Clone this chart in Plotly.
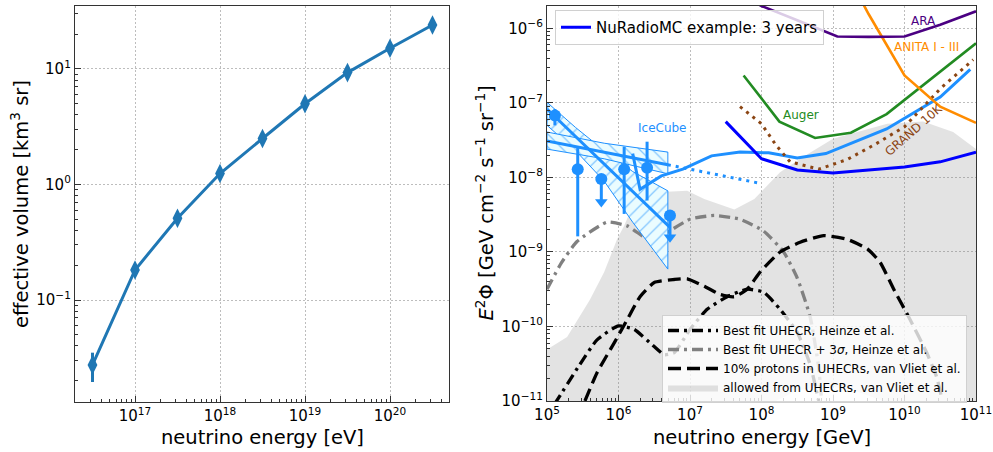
import plotly.graph_objects as go

# ---------------- left panel: effective volume ----------------
veff_energy_eV = [3.16e16, 1e17, 3.16e17, 1e18, 3.16e18, 1e19, 3.16e19, 1e20, 3.16e20]
veff_km3sr = [0.0274, 0.182, 0.51, 1.245, 2.5, 5.0, 9.3, 15.1, 24.0]
veff_err_up = [0.0076, 0.012, 0.02, 0.03, 0.05, 0.08, 0.12, 0.18, 0.25]
veff_err_down = [0.0079, 0.012, 0.02, 0.03, 0.05, 0.08, 0.12, 0.18, 0.25]

# ---------------- right panel: flux sensitivities (GeV, GeV cm^-2 s^-1 sr^-1) ----------------
nuradio_E = [3.16e7, 1e8, 3.16e8, 1e9, 3.16e9, 1e10, 3.16e10, 1e11]
nuradio_F = [5.62e-8, 1.78e-8, 1.26e-8, 1.15e-8, 1.26e-8, 1.38e-8, 1.62e-8, 2.19e-8]

ara_E = [7.08e7, 1e8, 3.16e8, 1e9, 1.15e9, 3.16e9, 1e10, 3.16e10, 1e11]
ara_F = [2.4e-6, 2.0e-6, 1.29e-6, 8.2e-7, 7.8e-7, 7.7e-7, 7.8e-7, 1.12e-6, 1.7e-6]

anita_E = [1e9, 3.16e9, 1e10, 3.16e10, 1e11]
anita_F = [1.2e-5, 1.55e-6, 2.34e-7, 8.9e-8, 5.4e-8]

auger_E = [5.62e7, 1.78e8, 5.62e8, 1.78e9, 5.62e9, 1.78e10, 5.62e10, 1e11]
auger_F = [2.34e-7, 5.62e-8, 3.39e-8, 3.98e-8, 7.08e-8, 1.7e-7, 4.07e-7, 6.31e-7]

grand_E = [5.01e7, 1e8, 1.58e8, 2.51e8, 6.31e8, 1.58e9, 3.98e9, 1e10, 3.16e10, 9.12e10]
grand_F = [8.91e-8, 5.25e-8, 2.75e-8, 1.62e-8, 1.29e-8, 1.74e-8, 2.82e-8, 4.79e-8, 1.55e-7, 3.8e-7]

icecube_lim_E = [1.58e6, 2e6, 3.98e6, 7.94e6, 2e7, 5.01e7, 1.26e8, 3.16e8, 7.94e8, 2e9, 5.62e9, 3.16e10, 8.32e10]
icecube_lim_F = [2.09e-8, 6.92e-9, 1.05e-8, 1.29e-8, 1.95e-8, 2.19e-8, 2.14e-8, 1.82e-8, 2.09e-8, 3.02e-8, 4.47e-8, 1.2e-7, 2.82e-7]

# IceCube astrophysical fits and bands
numu_fit_E = [1e5, 4.9e6]
numu_fit_F = [3.09e-8, 1.48e-8]
numu_ext_E = [4.9e6, 8.7e7]
numu_ext_F = [1.48e-8, 8.5e-9]
numu_band_E = [1e5, 6.31e5, 4.9e6]
numu_band_up = [4.07e-8, 2.88e-8, 2.19e-8]
numu_band_lo = [2.4e-8, 1.78e-8, 1.12e-8]

hese_fit_E = [1e5, 5.25e6]
hese_fit_F = [8.3e-8, 2.14e-9]
hese_band_E = [1e5, 2.51e5, 6.31e5, 1.58e6, 4.9e6]
hese_band_up = [1.02e-7, 4.68e-8, 2.29e-8, 1.2e-8, 6.61e-9]
hese_band_lo = [5.01e-8, 2.29e-8, 8.91e-9, 2.51e-9, 5.89e-10]

# IceCube data points
ic_pts_E = [1.29e5, 2.69e5, 1.2e6, 2.51e6]
ic_pts_F = [6.76e-8, 1.29e-8, 1.29e-8, 1.35e-8]
ic_pts_up = [8.3e-8, 2.57e-8, 2.57e-8, 3.02e-8]
ic_pts_lo = [5.0e-8, 1.62e-9, 3.24e-9, 4.9e-9]
ic_ul_E = [5.75e5, 5.25e6]
ic_ul_F = [9.55e-9, 3.09e-9]
ic_ul_tip = [4.68e-9, 1.58e-9]

# models
heinze_E = [1.26e5, 2.88e5, 5.01e5, 1e6, 1.66e6, 3.16e6, 4.37e6, 6.03e6, 1e7, 1.74e7, 3.31e7, 6.31e7,
            1.07e8, 1.82e8, 3.16e8, 4.79e8, 6.31e8]
heinze_F = [8.91e-12, 3.09e-11, 6.61e-11, 1.02e-10, 9.12e-11, 5.37e-11, 4.17e-11, 4.47e-11, 9.12e-11,
            1.7e-10, 2.51e-10, 3.16e-10, 2.88e-10, 1.7e-10, 8.32e-11, 3.09e-11, 1e-11]

heinze3s_E = [1e5, 1.58e5, 2.63e5, 6.92e5, 1.32e6, 2.29e6, 3.16e6, 4.79e6, 1e7, 2.19e7, 5.01e7, 1.07e8,
              2.04e8, 3.16e8, 4.79e8, 6.31e8, 6.92e8]
heinze3s_F = [3.16e-10, 7.08e-10, 1.38e-9, 2.51e-9, 2.24e-9, 1.58e-9, 1.38e-9, 1.82e-9, 2.75e-9, 3.09e-9,
              2.75e-9, 1.91e-9, 1e-9, 4.47e-10, 1.35e-10, 2.82e-11, 1e-11]

vliet_E = [3.39e5, 5.01e5, 8.71e5, 1.32e6, 2e6, 3.16e6, 6.03e6, 9.12e6, 1.58e7, 2.63e7, 4.17e7, 6.31e7,
           9.55e7, 1.82e8, 3.47e8, 7.41e8, 1.58e9, 3.02e9, 4.57e9, 7.08e9, 1.2e10, 2.04e10, 2.82e10, 3.31e10]
vliet_F = [1e-11, 2.4e-11, 6.03e-11, 1.23e-10, 2.51e-10, 3.89e-10, 4.27e-10, 4.37e-10, 3.47e-10, 2.69e-10,
           2.51e-10, 3.16e-10, 5.37e-10, 1e-9, 1.35e-9, 1.66e-9, 1.48e-9, 1.1e-9, 7.24e-10, 3.16e-10,
           1.23e-10, 4.47e-11, 2.09e-11, 1.1e-11]

allowed_up_E = [1e5, 1.91e5, 3.98e5, 6.31e5, 9.55e5, 1.2e6, 1.66e6, 3.47e6, 9.12e6, 1.58e7, 4.17e7, 7.94e7,
                1.82e8, 3.47e8, 1e9, 5.75e9, 1.82e10, 4.79e10, 1e11]
allowed_up_F = [4.9e-11, 7.24e-11, 2.29e-10, 5.37e-10, 1.48e-9, 2.24e-9, 4.68e-9, 6.31e-9, 6.61e-9, 5.13e-9,
                3.72e-9, 5.13e-9, 1.17e-8, 1.78e-8, 3.31e-8, 5.25e-8, 5.62e-8, 4.07e-8, 2.4e-8]
allowed_lo_E = [1e5, 1e8, 1.58e8, 3.16e8, 7.94e8, 2e9, 5.01e9, 7.94e9, 1e11]
allowed_lo_F = [1e-13, 3.16e-12, 1e-11, 1.38e-11, 1.62e-11, 1.38e-11, 1e-11, 3.16e-12, 1e-13]

# ---------------- figure ----------------
FONT = "DejaVu Sans"
C0 = "#1f77b4"
DB = "#1e90ff"
fig = go.Figure()

fig.add_trace(go.Scatter(
    x=veff_energy_eV, y=veff_km3sr, mode="lines+markers",
    line=dict(color=C0, width=3),
    marker=dict(symbol="diamond-tall", size=14, color=C0),
    error_y=dict(type="data", array=veff_err_up, arrayminus=veff_err_down,
                 color=C0, thickness=3, width=0),
    xaxis="x", yaxis="y", showlegend=False))

R = dict(xaxis="x2", yaxis="y2")

# allowed region (grey band)
fig.add_trace(go.Scatter(
    x=allowed_up_E + allowed_lo_E[::-1], y=allowed_up_F + allowed_lo_F[::-1],
    fill="toself", fillcolor="rgba(128,128,128,0.22)", line=dict(width=0),
    mode="lines", name="allowed from UHECRs, van Vliet et al.",
    legend="legend2", legendrank=4, hoverinfo="skip", **R))

fig.add_trace(go.Scatter(
    x=heinze_E, y=heinze_F, mode="lines",
    line=dict(color="black", width=3.3, dash="11px,5px,3px,5px", shape="spline", smoothing=0.5),
    name="Best fit UHECR, Heinze et al.", legend="legend2", legendrank=1, **R))
fig.add_trace(go.Scatter(
    x=heinze3s_E, y=heinze3s_F, mode="lines",
    line=dict(color="grey", width=3.3, dash="11px,5px,3px,5px", shape="spline", smoothing=0.5),
    name="Best fit UHECR + 3<i>σ</i>, Heinze et al.", legend="legend2", legendrank=2, **R))
fig.add_trace(go.Scatter(
    x=vliet_E, y=vliet_F, mode="lines",
    line=dict(color="black", width=3.3, dash="13px,6px", shape="spline", smoothing=0.5),
    name="10% protons in UHECRs, van Vliet et al.", legend="legend2", legendrank=3, **R))

# IceCube bands
fig.add_trace(go.Scatter(
    x=hese_band_E + hese_band_E[::-1] + [hese_band_E[0]],
    y=hese_band_up + hese_band_lo[::-1] + [hese_band_up[0]],
    fill="toself", mode="lines", line=dict(color=DB, width=1),
    fillpattern=dict(shape="/", fgcolor=DB, bgcolor="#eafcff", size=9, solidity=0.14),
    showlegend=False, hoverinfo="skip", **R))
fig.add_trace(go.Scatter(
    x=numu_band_E + numu_band_E[::-1] + [numu_band_E[0]],
    y=numu_band_up + numu_band_lo[::-1] + [numu_band_up[0]],
    fill="toself", mode="lines", line=dict(color=DB, width=1),
    fillpattern=dict(shape="\\", fgcolor=DB, bgcolor="#eafcff", size=9, solidity=0.14),
    showlegend=False, hoverinfo="skip", **R))
fig.add_trace(go.Scatter(x=hese_fit_E, y=hese_fit_F, mode="lines",
                         line=dict(color=DB, width=3), showlegend=False, **R))
fig.add_trace(go.Scatter(x=numu_fit_E, y=numu_fit_F, mode="lines",
                         line=dict(color=DB, width=3), showlegend=False, **R))
fig.add_trace(go.Scatter(x=numu_ext_E, y=numu_ext_F, mode="lines",
                         line=dict(color=DB, width=3, dash="3px,5px"), showlegend=False, **R))

# IceCube data points
fig.add_trace(go.Scatter(
    x=ic_pts_E, y=ic_pts_F, mode="markers",
    marker=dict(color=DB, size=12),
    error_y=dict(type="data", array=[u - f for u, f in zip(ic_pts_up, ic_pts_F)],
                 arrayminus=[f - l for f, l in zip(ic_pts_F, ic_pts_lo)],
                 color=DB, thickness=3, width=0),
    showlegend=False, **R))
fig.add_trace(go.Scatter(
    x=ic_ul_E, y=ic_ul_F, mode="markers",
    marker=dict(color=DB, size=12),
    error_y=dict(type="data", array=[0, 0],
                 arrayminus=[f - t for f, t in zip(ic_ul_F, ic_ul_tip)],
                 color=DB, thickness=3, width=0),
    showlegend=False, **R))
fig.add_trace(go.Scatter(x=ic_ul_E, y=ic_ul_tip, mode="markers",
                         marker=dict(symbol="triangle-down", color=DB, size=11),
                         showlegend=False, **R))

# sensitivities
fig.add_trace(go.Scatter(x=icecube_lim_E, y=icecube_lim_F, mode="lines",
                         line=dict(color=DB, width=3), showlegend=False, **R))
fig.add_trace(go.Scatter(x=grand_E, y=grand_F, mode="lines",
                         line=dict(color="#8b4513", width=3, dash="3px,5px"), showlegend=False, **R))
fig.add_trace(go.Scatter(x=auger_E, y=auger_F, mode="lines",
                         line=dict(color="#228b22", width=2.6), showlegend=False, **R))
fig.add_trace(go.Scatter(x=anita_E, y=anita_F, mode="lines",
                         line=dict(color="#ff8c00", width=2.6), showlegend=False, **R))
fig.add_trace(go.Scatter(x=ara_E, y=ara_F, mode="lines",
                         line=dict(color="#4b0082", width=2.6), showlegend=False, **R))
fig.add_trace(go.Scatter(x=nuradio_E, y=nuradio_F, mode="lines",
                         line=dict(color="#0000ff", width=3),
                         name="NuRadioMC example: 3 years", legend="legend", **R))


def major(lo, hi):
    vals = [10.0 ** e for e in range(lo, hi + 1)]
    txt = ["10<sup>%s%d</sup>" % ("\u2212" if e < 0 else "", abs(e)) for e in range(lo, hi + 1)]
    return vals, txt


def minor(lo, hi):
    return [m * 10.0 ** e for e in range(lo, hi + 1) for m in range(2, 10)]


AX = "#333333"
base = dict(type="log", showline=True, mirror=True, linecolor=AX, linewidth=1.3,
            ticks="inside", ticklen=6, tickwidth=1.1, tickcolor=AX,
            showgrid=True, gridcolor="#bdbdbd", griddash="2px,2px", gridwidth=0.9,
            zeroline=False, tickmode="array", automargin=False,
            tickfont=dict(family=FONT, size=15, color="black"))


def axis(domain, rng, lo, hi, mlo, mhi, anchor):
    v, t = major(lo, hi)
    d = dict(base)
    d.update(domain=domain, range=rng, tickvals=v, ticktext=t, anchor=anchor,
             minor=dict(tickmode="array", tickvals=minor(mlo, mhi), ticks="inside",
                        ticklen=3, tickwidth=1, tickcolor=AX, showgrid=False))
    return d


W, H = 993, 452
fig.update_layout(
    width=W, height=H, autosize=False,
    margin=dict(l=0, r=0, t=0, b=0),
    paper_bgcolor="white", plot_bgcolor="white",
    font=dict(family=FONT, color="black"),
    xaxis=axis([75 / W, 449 / W], [16.294, 20.694], 17, 20, 16, 20, "y"),
    yaxis=axis([1 - 402 / H, 1 - 6 / H], [-1.883, 1.545], -1, 1, -2, 1, "x"),
    xaxis2=axis([547 / W, 976 / W], [4.9999, 11.0001], 5, 11, 5, 10, "y2"),
    yaxis2=axis([1 - 401 / H, 1 - 6 / H], [-11.0001, -5.699], -11, -6, -11, -6, "x2"),
    legend=dict(x=555 / W, y=1 - 10 / H, xanchor="left", yanchor="top",
                bgcolor="rgba(255,255,255,0.8)", bordercolor="#d0d0d0", borderwidth=1,
                font=dict(family=FONT, size=15, color="black")),
    legend2=dict(x=662 / W, y=1 - 315 / H, xanchor="left", yanchor="top",
                 bgcolor="rgba(255,255,255,0.8)", bordercolor="#d0d0d0", borderwidth=1,
                 font=dict(family=FONT, size=12, color="black"), tracegroupgap=0,
                 itemwidth=50),
)

TF = dict(family=FONT, size=19.5, color="black")
ann = [
    dict(text="effective volume [km<sup>3</sup> sr]", x=20 / W, y=1 - 204 / H, textangle=-90),
    dict(text="neutrino energy [eV]", x=262 / W, y=1 - 437 / H),
    dict(text="<i>E</i><sup>2</sup>Φ [GeV cm<sup>−2</sup> s<sup>−1</sup> sr<sup>−1</sup>]",
         x=484 / W, y=1 - 203.5 / H, textangle=-90),
    dict(text="neutrino energy [GeV]", x=761.5 / W, y=1 - 437 / H),
]
for a in ann:
    fig.add_annotation(xref="paper", yref="paper", showarrow=False, xanchor="center",
                       yanchor="middle", font=TF, **a)

labels = [
    ("ARA", 10.26, -5.906, "#4b0082", 0),
    ("ANITA I - III", 10.31, -6.243, "#ff8c00", 0),
    ("Auger", 8.55, -7.16, "#228b22", 0),
    ("GRAND 10K", 10.13, -7.36, "#8b4513", -41),
    ("IceCube", 6.61, -7.33, DB, 0),
]
for txt, lx, ly, col, ang in labels:
    fig.add_annotation(xref="x2", yref="y2", x=lx, y=ly, text=txt, showarrow=False,
                       textangle=ang, xanchor="center", yanchor="middle",
                       font=dict(family=FONT, size=12, color=col))

fig.write_html("out.html")
